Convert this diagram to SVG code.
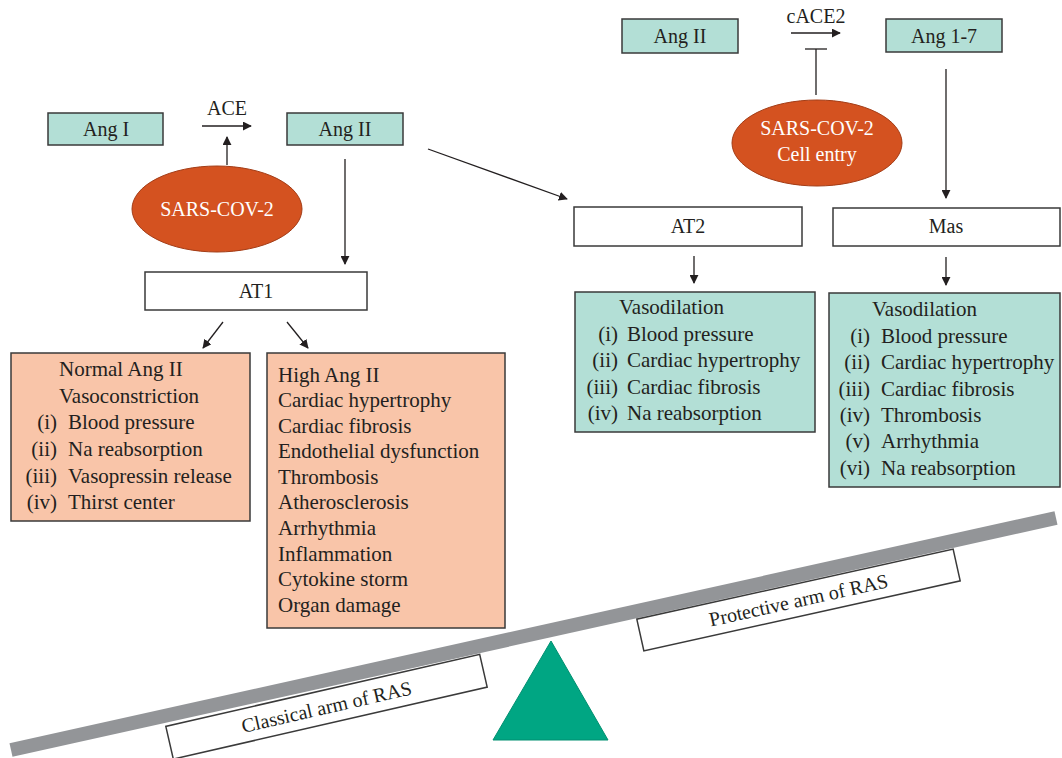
<svg xmlns="http://www.w3.org/2000/svg" width="1062" height="758" viewBox="0 0 1062 758">
<defs>
<style>
text{font-family:"Liberation Serif","Times New Roman",serif;fill:#231f20}
.lbl{font-size:20px;text-anchor:middle}
.lst{font-size:21px}
.num{font-size:21px;text-anchor:end}
.teal{fill:#b3dfd6;stroke:#3a3a3a;stroke-width:1.5}
.sal{fill:#f9c5a9;stroke:#3a3a3a;stroke-width:1.5}
.wht{fill:#fff;stroke:#3a3a3a;stroke-width:1.5}
.ell{fill:#d45220;stroke:#a33d17;stroke-width:1}
.etx{font-size:20px;text-anchor:middle;fill:#fff}
.con{stroke:#231f20;stroke-width:1.3;fill:none}
.arr{marker-end:url(#ah)}
</style>
<marker id="ah" viewBox="0 0 10 10" refX="9" refY="5" markerWidth="9" markerHeight="9" markerUnits="userSpaceOnUse" orient="auto">
<path d="M0,0 L10,5 L0,10 z" fill="#231f20"/>
</marker>
</defs>

<g id="beam">
<line x1="11" y1="750" x2="1056" y2="518" stroke="#939598" stroke-width="14"/>
</g>
<g id="fulcrum">
<polygon points="551,641 608,740 493,740" fill="#00a683" stroke="#008f70" stroke-width="1"/>
</g>
<g id="classical">
<g transform="translate(326.5,706.75) rotate(-12.9)">
<rect x="-161" y="-16.8" width="322" height="33.6" class="wht" stroke-width="1.3"/>
<text class="lbl" x="0" y="7">Classical arm of RAS</text>
</g>
</g>
<g id="protective">
<g transform="translate(798.5,600) rotate(-12.5)">
<rect x="-162" y="-16.3" width="324" height="32.6" class="wht" stroke-width="1.3"/>
<text class="lbl" x="0" y="7">Protective arm of RAS</text>
</g>
</g>

<g id="connectors">
<line class="con arr" x1="202" y1="126" x2="251" y2="126"/>
<line class="con arr" x1="227" y1="165" x2="227" y2="137"/>
<line class="con arr" x1="345" y1="159" x2="345" y2="264"/>
<line class="con arr" x1="428" y1="149" x2="567" y2="199"/>
<line class="con arr" x1="223" y1="322" x2="203" y2="348"/>
<line class="con arr" x1="287" y1="322" x2="308" y2="348"/>
<line class="con arr" x1="791" y1="33" x2="840" y2="33"/>
<line class="con" x1="816" y1="49" x2="816" y2="95"/>
<line class="con" x1="805" y1="49" x2="827" y2="49"/>
<line class="con arr" x1="946" y1="69" x2="946" y2="198"/>
<line class="con arr" x1="694" y1="256" x2="694" y2="283"/>
<line class="con arr" x1="946" y1="257" x2="946" y2="285"/>
<text class="lbl" x="227" y="115">ACE</text>
<text class="lbl" x="816" y="23">cACE2</text>
</g>

<g id="angI">
<rect class="teal" x="48" y="113" width="115" height="32"/>
<text class="lbl" x="106" y="136">Ang I</text>
</g>
<g id="angII-left">
<rect class="teal" x="287" y="113" width="116" height="32"/>
<text class="lbl" x="345" y="136">Ang II</text>
</g>
<g id="sars1">
<ellipse class="ell" cx="217" cy="209" rx="85" ry="43"/>
<text class="etx" x="217" y="216">SARS-COV-2</text>
</g>
<g id="at1">
<rect class="wht" x="145" y="272" width="222" height="38"/>
<text class="lbl" x="256" y="298">AT1</text>
</g>
<g id="normal">
<rect class="sal" x="11" y="353" width="239" height="168"/>
<text class="lst" x="59" y="376">Normal Ang II</text>
<text class="lst" x="59" y="403">Vasoconstriction</text>
<text class="num" x="57" y="429">(i)</text><text class="lst" x="68" y="429">Blood pressure</text>
<text class="num" x="57" y="456">(ii)</text><text class="lst" x="68" y="456">Na reabsorption</text>
<text class="num" x="57" y="483">(iii)</text><text class="lst" x="68" y="483">Vasopressin release</text>
<text class="num" x="57" y="509">(iv)</text><text class="lst" x="68" y="509">Thirst center</text>
</g>
<g id="high">
<rect class="sal" x="267" y="353" width="238" height="275"/>
<text class="lst" x="278" y="382">High Ang II</text>
<text class="lst" x="278" y="407">Cardiac hypertrophy</text>
<text class="lst" x="278" y="433">Cardiac fibrosis</text>
<text class="lst" x="278" y="458">Endothelial dysfunction</text>
<text class="lst" x="278" y="484">Thrombosis</text>
<text class="lst" x="278" y="509">Atherosclerosis</text>
<text class="lst" x="278" y="535">Arrhythmia</text>
<text class="lst" x="278" y="561">Inflammation</text>
<text class="lst" x="278" y="586">Cytokine storm</text>
<text class="lst" x="278" y="612">Organ damage</text>
</g>

<g id="angII-right">
<rect class="teal" x="622" y="19" width="116" height="34"/>
<text class="lbl" x="680" y="43">Ang II</text>
</g>
<g id="ang17">
<rect class="teal" x="886" y="19" width="116" height="33"/>
<text class="lbl" x="944" y="43">Ang 1-7</text>
</g>
<g id="sars2">
<ellipse class="ell" cx="817" cy="143" rx="85" ry="43"/>
<text class="etx" x="817" y="135">SARS-COV-2</text>
<text class="etx" x="817" y="161">Cell entry</text>
</g>
<g id="at2">
<rect class="wht" x="574" y="207" width="228" height="39"/>
<text class="lbl" x="688" y="233">AT2</text>
</g>
<g id="mas">
<rect class="wht" x="833" y="208" width="227" height="38"/>
<text class="lbl" x="946" y="233">Mas</text>
</g>
<g id="at2-effects">
<rect class="teal" x="575" y="292" width="240" height="140"/>
<text class="lst" x="619" y="314">Vasodilation</text>
<text class="num" x="618" y="341">(i)</text><text class="lst" x="627" y="341">Blood pressure</text>
<text class="num" x="618" y="367">(ii)</text><text class="lst" x="627" y="367">Cardiac hypertrophy</text>
<text class="num" x="618" y="394">(iii)</text><text class="lst" x="627" y="394">Cardiac fibrosis</text>
<text class="num" x="618" y="420">(iv)</text><text class="lst" x="627" y="420">Na reabsorption</text>
</g>
<g id="mas-effects">
<rect class="teal" x="829" y="293" width="231" height="194"/>
<text class="lst" x="872" y="316">Vasodilation</text>
<text class="num" x="870" y="343">(i)</text><text class="lst" x="881" y="343">Blood pressure</text>
<text class="num" x="870" y="369">(ii)</text><text class="lst" x="881" y="369">Cardiac hypertrophy</text>
<text class="num" x="870" y="396">(iii)</text><text class="lst" x="881" y="396">Cardiac fibrosis</text>
<text class="num" x="870" y="422">(iv)</text><text class="lst" x="881" y="422">Thrombosis</text>
<text class="num" x="870" y="448">(v)</text><text class="lst" x="881" y="448">Arrhythmia</text>
<text class="num" x="870" y="475">(vi)</text><text class="lst" x="881" y="475">Na reabsorption</text>
</g>
</svg>
